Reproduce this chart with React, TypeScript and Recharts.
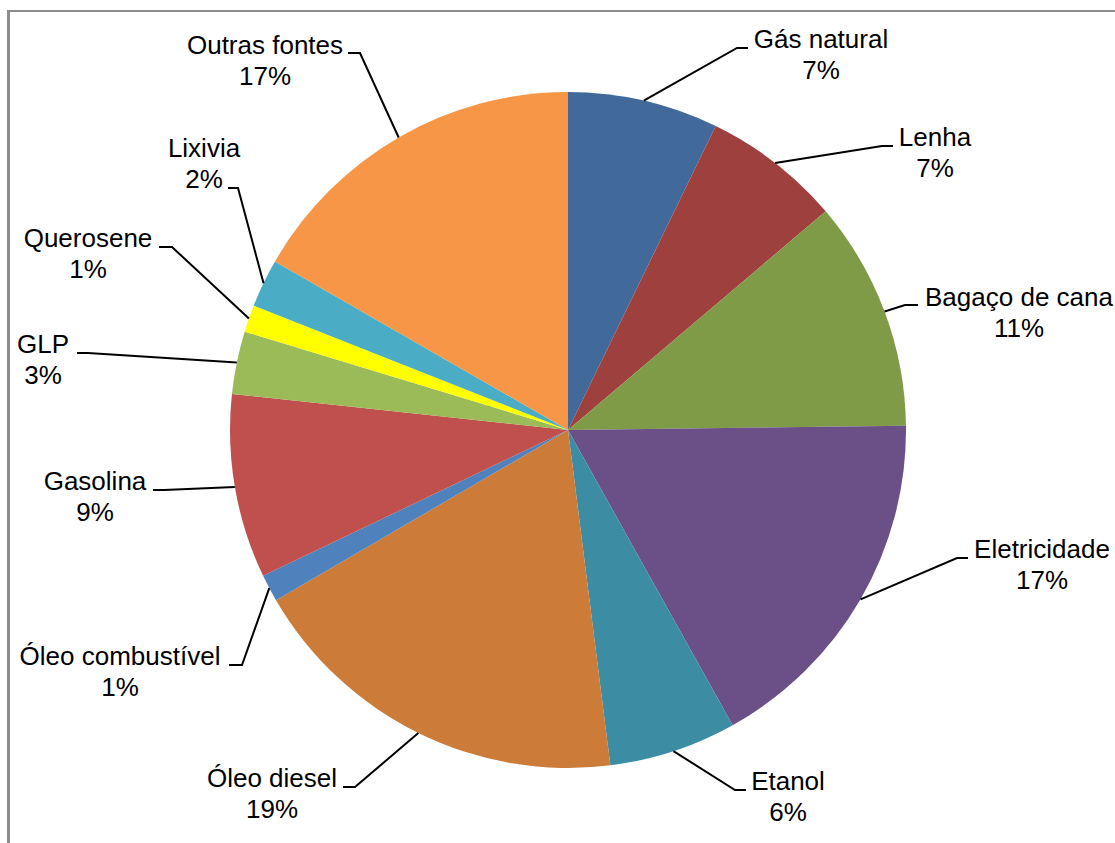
import { PieChart, Pie, Cell } from "recharts"

const NAMES = [
  "Gás natural", "Lenha", "Bagaço de cana", "Eletricidade", "Etanol", "Óleo diesel",
  "Óleo combustível", "Gasolina", "GLP", "Querosene", "Lixivia", "Outras fontes",
]
const VALUES = [7.2, 6.6, 11.0, 17.1, 6.1, 18.6, 1.3, 8.8, 3.0, 1.3, 2.3, 16.7]
const COLORS = [
  "#416A9B", "#9E413E", "#7F9B48", "#6A5087", "#3C8DA3", "#CC7B38",
  "#4F81BD", "#C0504D", "#9BBB59", "#FFFF00", "#4BACC6", "#F79646",
]

// label placement in px from the pie centre:
// elbow of the leader line, end of its short tick, text centre x, first baseline
const LABEL_LAYOUT = [
  { ex: 169, ey: -382, hx: 180, tx: 253, ty: -382 },
  { ex: 314, ey: -284, hx: 325, tx: 367, ty: -284 },
  { ex: 337, ey: -125, hx: 350, tx: 451, ty: -124 },
  { ex: 389, ey: 128, hx: 400, tx: 474, ty: 128 },
  { ex: 167, ey: 360, hx: 178, tx: 220, ty: 360 },
  { ex: -213, ey: 357, hx: -225, tx: -296, ty: 357 },
  { ex: -326, ey: 235, hx: -339, tx: -448, ty: 235 },
  { ex: -404, ey: 60, hx: -415, tx: -473, ty: 60 },
  { ex: -480, ey: -77, hx: -491, tx: -525, ty: -77 },
  { ex: -396, ey: -183, hx: -409, tx: -480, ty: -183 },
  { ex: -330, ey: -242, hx: -340, tx: -364, ty: -273 },
  { ex: -208, ey: -377, hx: -220, tx: -303, ty: -376 },
]

const FONT = "'Liberation Sans', Arial, sans-serif"
const RAD = Math.PI / 180

const data = NAMES.map((name, i) => ({ name, value: VALUES[i] }))

function renderLabel(props: any) {
  const { cx, cy, midAngle, outerRadius, index, percent, name } = props
  const lay = LABEL_LAYOUT[index]
  const sx = cx + Math.cos(-midAngle * RAD) * outerRadius
  const sy = cy + Math.sin(-midAngle * RAD) * outerRadius
  const pct = `${Math.round(percent * 100)}%`
  return (
    <g key={`lbl-${index}`}>
      <polyline
        points={`${sx},${sy} ${cx + lay.ex},${cy + lay.ey} ${cx + lay.hx},${cy + lay.ey}`}
        fill="none"
        stroke="#000"
        strokeWidth={2}
      />
      <text x={cx + lay.tx} y={cy + lay.ty} textAnchor="middle" fontSize={26} fontFamily={FONT} fill="#000">
        {name}
      </text>
      <text x={cx + lay.tx} y={cy + lay.ty + 31} textAnchor="middle" fontSize={26} fontFamily={FONT} fill="#000">
        {pct}
      </text>
    </g>
  )
}

export default function App() {
  return (
    <div style={{ position: "absolute", left: 0, top: 0, width: 1115, height: 843, background: "#fff", overflow: "hidden" }}>
      <div
        style={{
          position: "absolute",
          left: 7,
          top: 10,
          width: 1200,
          height: 900,
          borderLeft: "3px solid #8c8c8c",
          borderTop: "2px solid #8c8c8c",
        }}
      />
      <div style={{ position: "absolute", left: 0, top: 0 }}>
        <PieChart width={1115} height={843} margin={{ top: 0, right: 0, bottom: 0, left: 0 }}>
          <Pie
            data={data}
            dataKey="value"
            nameKey="name"
            cx={568}
            cy={430}
            outerRadius={338}
            startAngle={90}
            endAngle={-270}
            stroke="none"
            label={renderLabel}
            labelLine={false}
            isAnimationActive={false}
          >
            {data.map((d, i) => (
              <Cell key={d.name} fill={COLORS[i]} />
            ))}
          </Pie>
        </PieChart>
      </div>
    </div>
  )
}
